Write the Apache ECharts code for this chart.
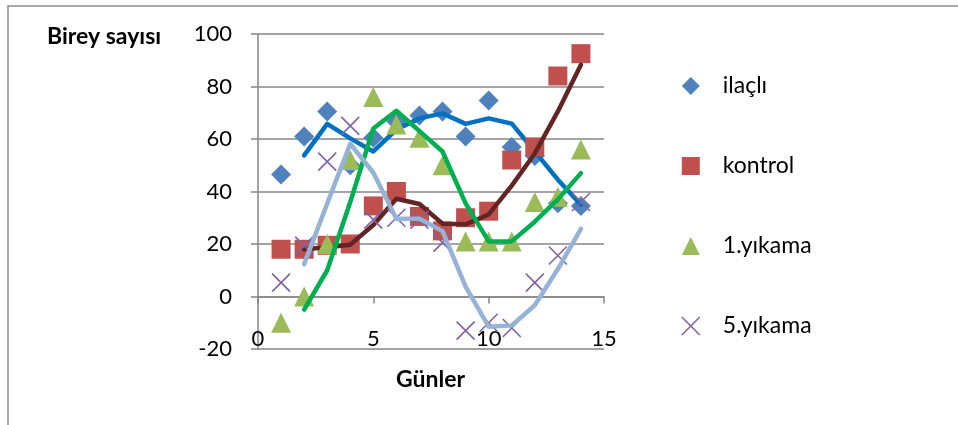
<!DOCTYPE html>
<html><head><meta charset="utf-8">
<script src="https://cdn.jsdelivr.net/npm/echarts@6/dist/echarts.min.js"></script>
<style>html,body{margin:0;padding:0;background:#fff}#c{width:958px;height:425px}</style>
</head><body><div id="c"></div>
<script>
const days = [1,2,3,4,5,6,7,8,9,10,11,12,13,14];
const ilacli  = [46.5,61,70.5,50,60.5,66.7,69,70.5,61,74.7,57,53.5,35.5,34.5];
const kontrol = [18,18,19.5,20,34.5,40,30.5,25,30,32.5,52,57,84,92.5];
const yikama1 = [-10,0,20,52,76,65.5,60.5,50,21,21,21,36,38,56];
const yikama5 = [5.3,19.4,51.4,65,29.3,30,29.3,20.5,-13,-10,-12,5.3,15.6,36];
const seriesNames = ['ilaçlı','kontrol','1.yıkama','5.yıkama'];
const yTitle = 'Birey sayısı';
const xTitle = 'Günler';

const FONT = 'Lato';
const pts = arr => days.map((d,i)=>[d,arr[i]]);
// Excel moving-average trendline (period 2)
const ma2 = arr => days.slice(1).map((d,i)=>[d,(arr[i]+arr[i+1])/2]);

const markerColors = ['#4F81BD','#C0504D','#9BBB59','#8064A2'];
const lineColors = ['#0070C0','#632523','#00B050','#95B3D7'];
const symbols = ['diamond','rect','triangle','path://M0,0 L10,10 M10,0 L0,10'];
const sizes = [20,19,20,18];
const datas = [ilacli,kontrol,yikama1,yikama5];

const series = [];
datas.forEach((arr,k)=>{
  const isX = k===3;
  series.push({
    name: seriesNames[k], type:'scatter', data: pts(arr),
    symbol: symbols[k], symbolSize: sizes[k],
    itemStyle: isX ? {color:'rgba(0,0,0,0)', borderColor: markerColors[k], borderWidth:1.6, opacity:1}
                   : {color: markerColors[k], opacity:1},
    emphasis:{disabled:true}, z: 2+k*2, silent:true
  });
  series.push({
    name: seriesNames[k]+'_trend', type:'line', data: ma2(arr),
    showSymbol:false, symbol:'none', smooth:false,
    lineStyle:{color: lineColors[k], width:4.5, cap:'round', join:'round'},
    z: 3+k*2, silent:true
  });
});

const chart = echarts.init(document.getElementById('c'));
const gray = '#868686';
chart.setOption({
  animation:false,
  backgroundColor:'#fff',
  grid:{left:258, top:34, width:346, height:315, containLabel:false},
  xAxis:{
    type:'value', min:0, max:15, interval:5,
    axisLine:{show:true, onZero:true, lineStyle:{color:gray, width:1.5}},
    axisTick:{show:true, length:7, lineStyle:{color:gray, width:1.5}},
    axisLabel:{color:'#000', fontSize:22, fontFamily:FONT, margin:-21},
    splitLine:{show:false}
  },
  yAxis:{
    type:'value', min:-20, max:100, interval:20,
    axisLine:{show:true, onZero:false, lineStyle:{color:gray, width:1.5}},
    axisTick:{show:true, length:7, lineStyle:{color:gray, width:1.5}},
    axisLabel:{color:'#000', fontSize:22, fontFamily:FONT, margin:26},
    splitLine:{show:true, lineStyle:{color:gray, width:1.5}}
  },
  legend:{
    data: seriesNames.map((n,k)=>({name:n, icon: symbols[k],
      itemStyle: k===3 ? {color:'rgba(0,0,0,0)', borderColor:markerColors[k], borderWidth:1.6} : {color:markerColors[k]}})),
    orient:'vertical', left:676, top:68,
    itemWidth:18, itemHeight:18, itemGap:54,
    selectedMode:false,
    textStyle:{color:'#000', fontSize:23, fontFamily:FONT, lineHeight:26, padding:[0,0,0,18]}
  },
  graphic:[
    {type:'rect', shape:{x:8, y:6, width:1200, height:800}, style:{fill:'none', stroke:'#8c8c8c', lineWidth:1.5}, silent:true},
    {type:'text', left:47, top:25, style:{text:yTitle, font:'bold 23px '+FONT, fill:'#000'}},
    {type:'text', left:396, top:368, style:{text:xTitle, font:'bold 23px '+FONT, fill:'#000'}}
  ],
  series
});
</script></body></html>
